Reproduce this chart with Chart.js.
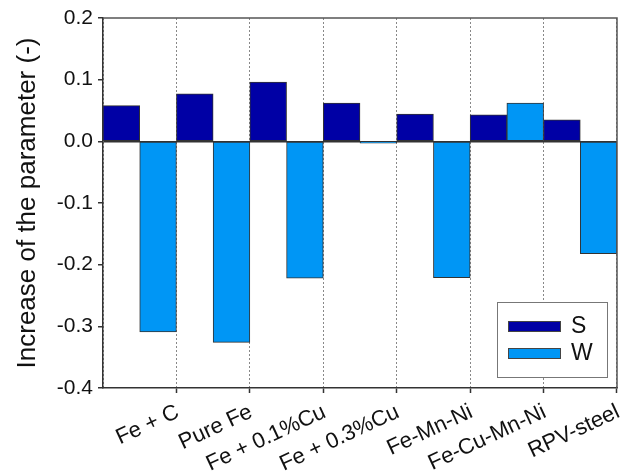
<!DOCTYPE html>
<html>
<head>
<meta charset="utf-8">
<script src="https://cdn.jsdelivr.net/npm/chart.js@4"></script>
<style>
  html, body { margin: 0; padding: 0; background: #fff; }
  #wrap { width: 629px; height: 475px; }
</style>
</head>
<body>
<div id="wrap"><canvas id="myBarChart" width="629" height="475"></canvas></div>
<script>
// data
const categories = ['Fe + C', 'Pure Fe', 'Fe + 0.1%Cu', 'Fe + 0.3%Cu', 'Fe-Mn-Ni', 'Fe-Cu-Mn-Ni', 'RPV-steel'];
const valuesS = [0.058, 0.077, 0.096, 0.062, 0.044, 0.043, 0.035];
const valuesW = [-0.309, -0.326, -0.222, -0.003, -0.221, 0.062, -0.182];
const yTicks = [-0.4, -0.3, -0.2, -0.1, 0.0, 0.1, 0.2];

const FONT = "'Liberation Sans', Arial, sans-serif";
const axisColor = '#333';

// top and right edges of the plot frame
const framePlugin = {
  id: 'frame',
  afterDraw(chart) {
    const { ctx, chartArea: a } = chart;
    ctx.save();
    ctx.strokeStyle = '#555';
    ctx.lineWidth = 1.5;
    ctx.beginPath();
    ctx.moveTo(a.left, a.top);
    ctx.lineTo(a.right, a.top);
    ctx.lineTo(a.right, a.bottom);
    ctx.stroke();
    ctx.restore();
  }
};

// boxed legend in the lower right corner of the plot
const boxLegend = {
  id: 'boxLegend',
  afterDraw(chart) {
    const { ctx, chartArea: a } = chart;
    const w = 110, h = 75;
    const x = a.right - 10 - w, y = a.bottom - 11 - h;
    ctx.save();
    ctx.fillStyle = '#fff';
    ctx.fillRect(x, y, w, h);
    ctx.strokeStyle = '#777';
    ctx.lineWidth = 1;
    ctx.strokeRect(x + 0.5, y + 0.5, w, h);
    ctx.font = '23px ' + FONT;
    ctx.textBaseline = 'middle';
    chart.data.datasets.forEach((ds, i) => {
      const cy = y + 24 + i * 27;
      ctx.fillStyle = ds.backgroundColor;
      ctx.fillRect(x + 11, cy - 5, 53, 10);
      ctx.strokeStyle = '#444';
      ctx.strokeRect(x + 11.5, cy - 4.5, 52, 10);
      ctx.fillStyle = '#111';
      ctx.fillText(ds.label, x + 74, cy + 1);
    });
    ctx.restore();
  }
};

const ctx = document.getElementById('myBarChart').getContext('2d');
new Chart(ctx, {
  type: 'bar',
  data: {
    labels: categories,
    datasets: [
      {
        label: 'S',
        data: valuesS,
        backgroundColor: '#0000a5',
        borderColor: '#333',
        borderWidth: 1,
        borderSkipped: false
      },
      {
        label: 'W',
        data: valuesW,
        backgroundColor: '#0096f5',
        borderColor: '#333',
        borderWidth: 1,
        borderSkipped: false
      }
    ]
  },
  options: {
    responsive: false,
    animation: false,
    maintainAspectRatio: false,
    layout: { padding: { top: 18, right: 12, left: 0, bottom: 0 } },
    plugins: {
      legend: { display: false },
      tooltip: { enabled: false }
    },
    datasets: {
      bar: { barPercentage: 1.0, categoryPercentage: 1.0 }
    },
    scales: {
      x: {
        offset: true,
        afterFit(scale) { scale.height = 87; },
        grid: {
          offset: true,
          color: '#888',
          lineWidth: 1,
          tickLength: 5,
          tickColor: (c) => c.index === 0 ? 'rgba(0,0,0,0)' : axisColor,
          tickWidth: 1.5
        },
        border: { color: axisColor, width: 1.5, dash: [2, 2] },
        ticks: {
          color: '#111',
          font: { family: FONT, size: 22 },
          minRotation: 25,
          maxRotation: 25,
          autoSkip: false,
          labelOffset: 38,
          padding: 6
        }
      },
      y: {
        min: -0.4,
        max: 0.2,
        afterFit(scale) { scale.width = 103; },
        afterBuildTicks(scale) { scale.ticks = yTicks.map(v => ({ value: v })); },
        grid: {
          color: (c) => c.tick && c.tick.value === 0 ? axisColor : 'rgba(0,0,0,0)',
          lineWidth: 1.5,
          tickLength: 5,
          tickColor: axisColor,
          tickWidth: 1.5
        },
        border: { color: axisColor, width: 1.5 },
        ticks: {
          color: '#111',
          font: { family: FONT, size: 21 },
          padding: 5,
          callback: (v) => Number(v).toFixed(1)
        },
        title: {
          display: true,
          text: 'Increase of the parameter (-)',
          color: '#111',
          font: { family: FONT, size: 26 },
          padding: { top: 12, bottom: 0 }
        }
      }
    }
  },
  plugins: [framePlugin, boxLegend]
});
</script>
</body>
</html>
